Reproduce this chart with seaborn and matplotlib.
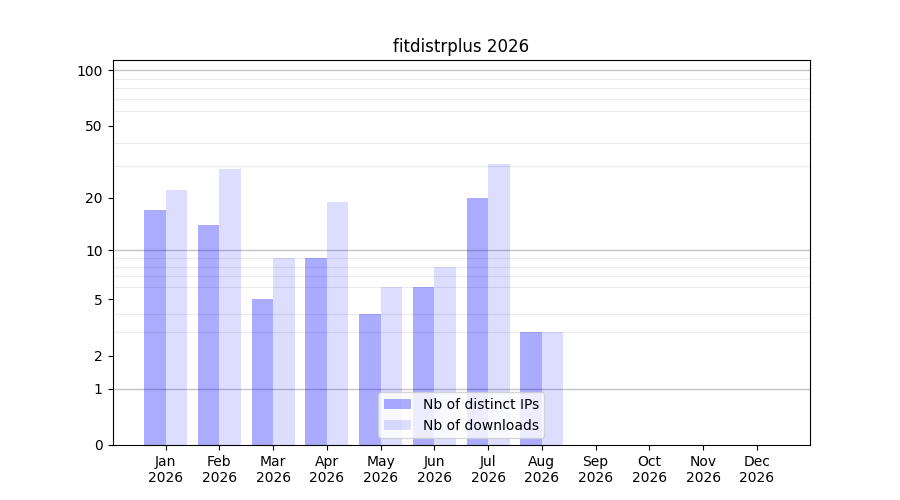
import numpy as np
import pandas as pd
import matplotlib
matplotlib.use('Agg')
import matplotlib.pyplot as plt
import seaborn as sns
from matplotlib.ticker import FixedLocator, NullFormatter

months = ['Jan', 'Feb', 'Mar', 'Apr', 'May', 'Jun',
          'Jul', 'Aug', 'Sep', 'Oct', 'Nov', 'Dec']
year = 2026
distinct_ips = [17, 14, 5, 9, 4, 6, 20, 3, 0, 0, 0, 0]
downloads = [22, 29, 9, 19, 6, 8, 31, 3, 0, 0, 0, 0]

series_names = ['Nb of distinct IPs', 'Nb of downloads']

labels = [f'{m}\n{year}' for m in months]
df = pd.DataFrame({
    'month': labels * 2,
    'count': distinct_ips + downloads,
    'series': [series_names[0]] * 12 + [series_names[1]] * 12,
})

fig, ax = plt.subplots(figsize=(9, 5), dpi=100)

sns.barplot(data=df, x='month', y='count', hue='series', order=labels,
            hue_order=series_names, palette=['blue', 'blue'],
            saturation=1, width=0.8, linewidth=0, ax=ax, legend=False)

# lighter fill for downloads
n = len(labels)
for i, p in enumerate(ax.patches):
    p.set_alpha(0.33 if i < n else 0.135)

# log(1 + x) scale
ax.set_yscale('function', functions=(lambda v: np.log10(1 + np.clip(v, 0, None)),
                                     lambda v: 10 ** v - 1))
ax.set_ylim(0, 113.5)
ax.set_xlim(-0.99, 11.99)

major = [0, 1, 2, 5, 10, 20, 50, 100]
minor = [2, 3, 4, 5, 6, 7, 8, 9, 20, 30, 40, 50, 60, 70, 80, 90]
ax.yaxis.set_major_locator(FixedLocator(major))
ax.set_yticklabels([str(v) for v in major])
ax.yaxis.set_minor_locator(FixedLocator(minor))
ax.yaxis.set_minor_formatter(NullFormatter())
ax.tick_params(axis='y', which='minor', length=0)
ax.grid(False)
ax.grid(which='minor', axis='y', color='#ebebeb', linewidth=0.8)
for v in [1, 10, 100]:
    ax.axhline(v, color='#c4c4c4', linewidth=1, zorder=0.5)
ax.set_axisbelow(True)

ax.set_xlabel('')
ax.set_ylabel('')
ax.set_title(f'fitdistrplus {year}')

from matplotlib.patches import Patch
handles = [Patch(facecolor='blue', alpha=0.33, label=series_names[0]),
           Patch(facecolor='blue', alpha=0.135, label=series_names[1])]
ax.legend(handles=handles, loc='lower center')

fig.savefig('out.png', dpi=100)
